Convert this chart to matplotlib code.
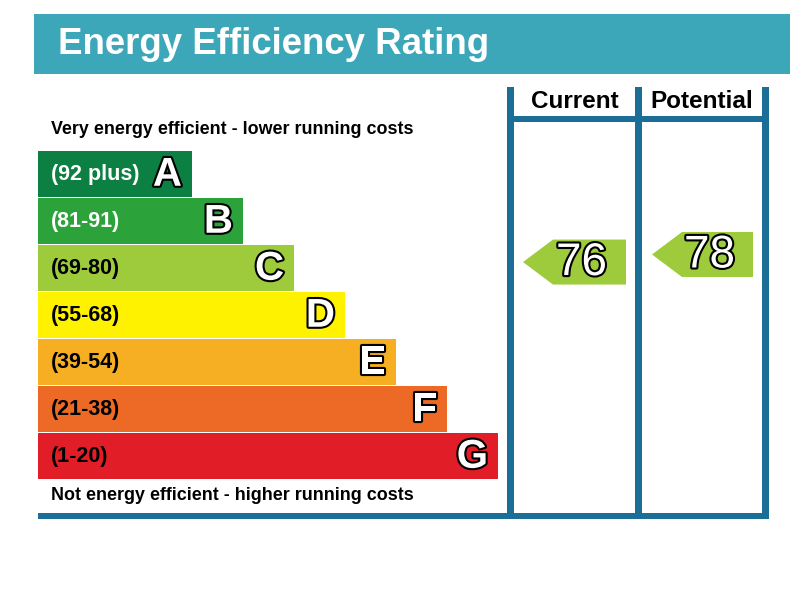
import matplotlib
matplotlib.use('Agg')
import matplotlib.pyplot as plt
from matplotlib.patches import Rectangle, Polygon
import matplotlib.patheffects as pe

plt.rcParams['font.family'] = ['Liberation Sans', 'DejaVu Sans']

# rating bands, top (best) to bottom (worst)
letters = ['A', 'B', 'C', 'D', 'E', 'F', 'G']
ranges = ['(92 plus)', '(81-91)', '(69-80)', '(55-68)', '(39-54)', '(21-38)', '(1-20)']
band_low = [92, 81, 69, 55, 39, 21, 1]
band_high = [100, 91, 80, 68, 54, 38, 20]
band_colors = ['#0c7f42', '#2ca23b', '#9dcb3c', '#fff200', '#f6ae23', '#ec6a25', '#e11e27']
range_text_colors = ['white', 'white', 'black', 'black', 'black', 'black', 'black']

current_score = 76
potential_score = 78

title = 'Energy Efficiency Rating'
top_note = 'Very energy efficient - lower running costs'
bottom_note = 'Not energy efficient - higher running costs'
col_names = ['Current', 'Potential']

title_bg = '#3ca7b9'
line_col = '#1b6f97'

fig = plt.figure(figsize=(7.9, 6.02), dpi=100)
ax = fig.add_axes([0, 0, 1, 1])
ax.set_xlim(0, 790)
ax.set_ylim(602, 0)
ax.axis('off')

# title bar
ax.add_patch(Rectangle((34, 14), 756, 60, color=title_bg, lw=0))
ax.text(58, 44, title, color='white', fontsize=26.4, fontweight='bold', va='center', ha='left')

# grid lines of the table
for x0 in [507, 635, 762]:
    ax.add_patch(Rectangle((x0, 87), 7, 432, color=line_col, lw=0))
ax.add_patch(Rectangle((507, 116), 261, 6, color=line_col, lw=0))
ax.add_patch(Rectangle((38, 513), 730, 6, color=line_col, lw=0))

ax.text(575, 101, col_names[0], fontsize=17.5, fontweight='bold', ha='center', va='center')
ax.text(702, 101, col_names[1], fontsize=17.5, fontweight='bold', ha='center', va='center')

ax.text(51, 130, top_note, fontsize=12.9, fontweight='bold', ha='left', va='center')
ax.text(51, 495, bottom_note, fontsize=12.9, fontweight='bold', ha='left', va='center')

outline = [pe.withStroke(linewidth=3, foreground='black')]

bar_top = 151
bar_h = 45.5
pitch = 47
band_rows = {}
for i, letter in enumerate(letters):
    y0 = bar_top + i * pitch
    right = 192 + 51 * i
    band_rows[letter] = y0
    ax.add_patch(Rectangle((38, y0), right - 38, bar_h, color=band_colors[i], lw=0))
    ax.text(51, y0 + bar_h / 2 + 1, ranges[i], color=range_text_colors[i], fontsize=15.5,
            fontweight='bold', ha='left', va='center')
    ax.text(right - 10, y0 + bar_h / 2 + 1, letter, color='white', fontsize=29,
            fontweight='bold', ha='right', va='center', path_effects=outline)


def score_arrow(score, tip_x, right_x):
    i = [k for k in range(len(letters)) if band_low[k] <= score <= band_high[k]][0]
    y0 = band_rows[letters[i]]
    span = band_high[i] - band_low[i] + 1
    yc = y0 + (band_high[i] - score + 0.5) / span * bar_h
    h = 45
    pts = [(tip_x, yc), (tip_x + 30, yc - h / 2), (right_x, yc - h / 2),
           (right_x, yc + h / 2), (tip_x + 30, yc + h / 2)]
    ax.add_patch(Polygon(pts, closed=True, color=band_colors[i], lw=0))
    ax.text((tip_x + right_x) / 2 + 7, yc + 1, str(score), color='white', fontsize=33,
            ha='center', va='center', path_effects=outline)


score_arrow(current_score, 523, 626)
score_arrow(potential_score, 652, 753)

fig.savefig('out.png', dpi=100)
